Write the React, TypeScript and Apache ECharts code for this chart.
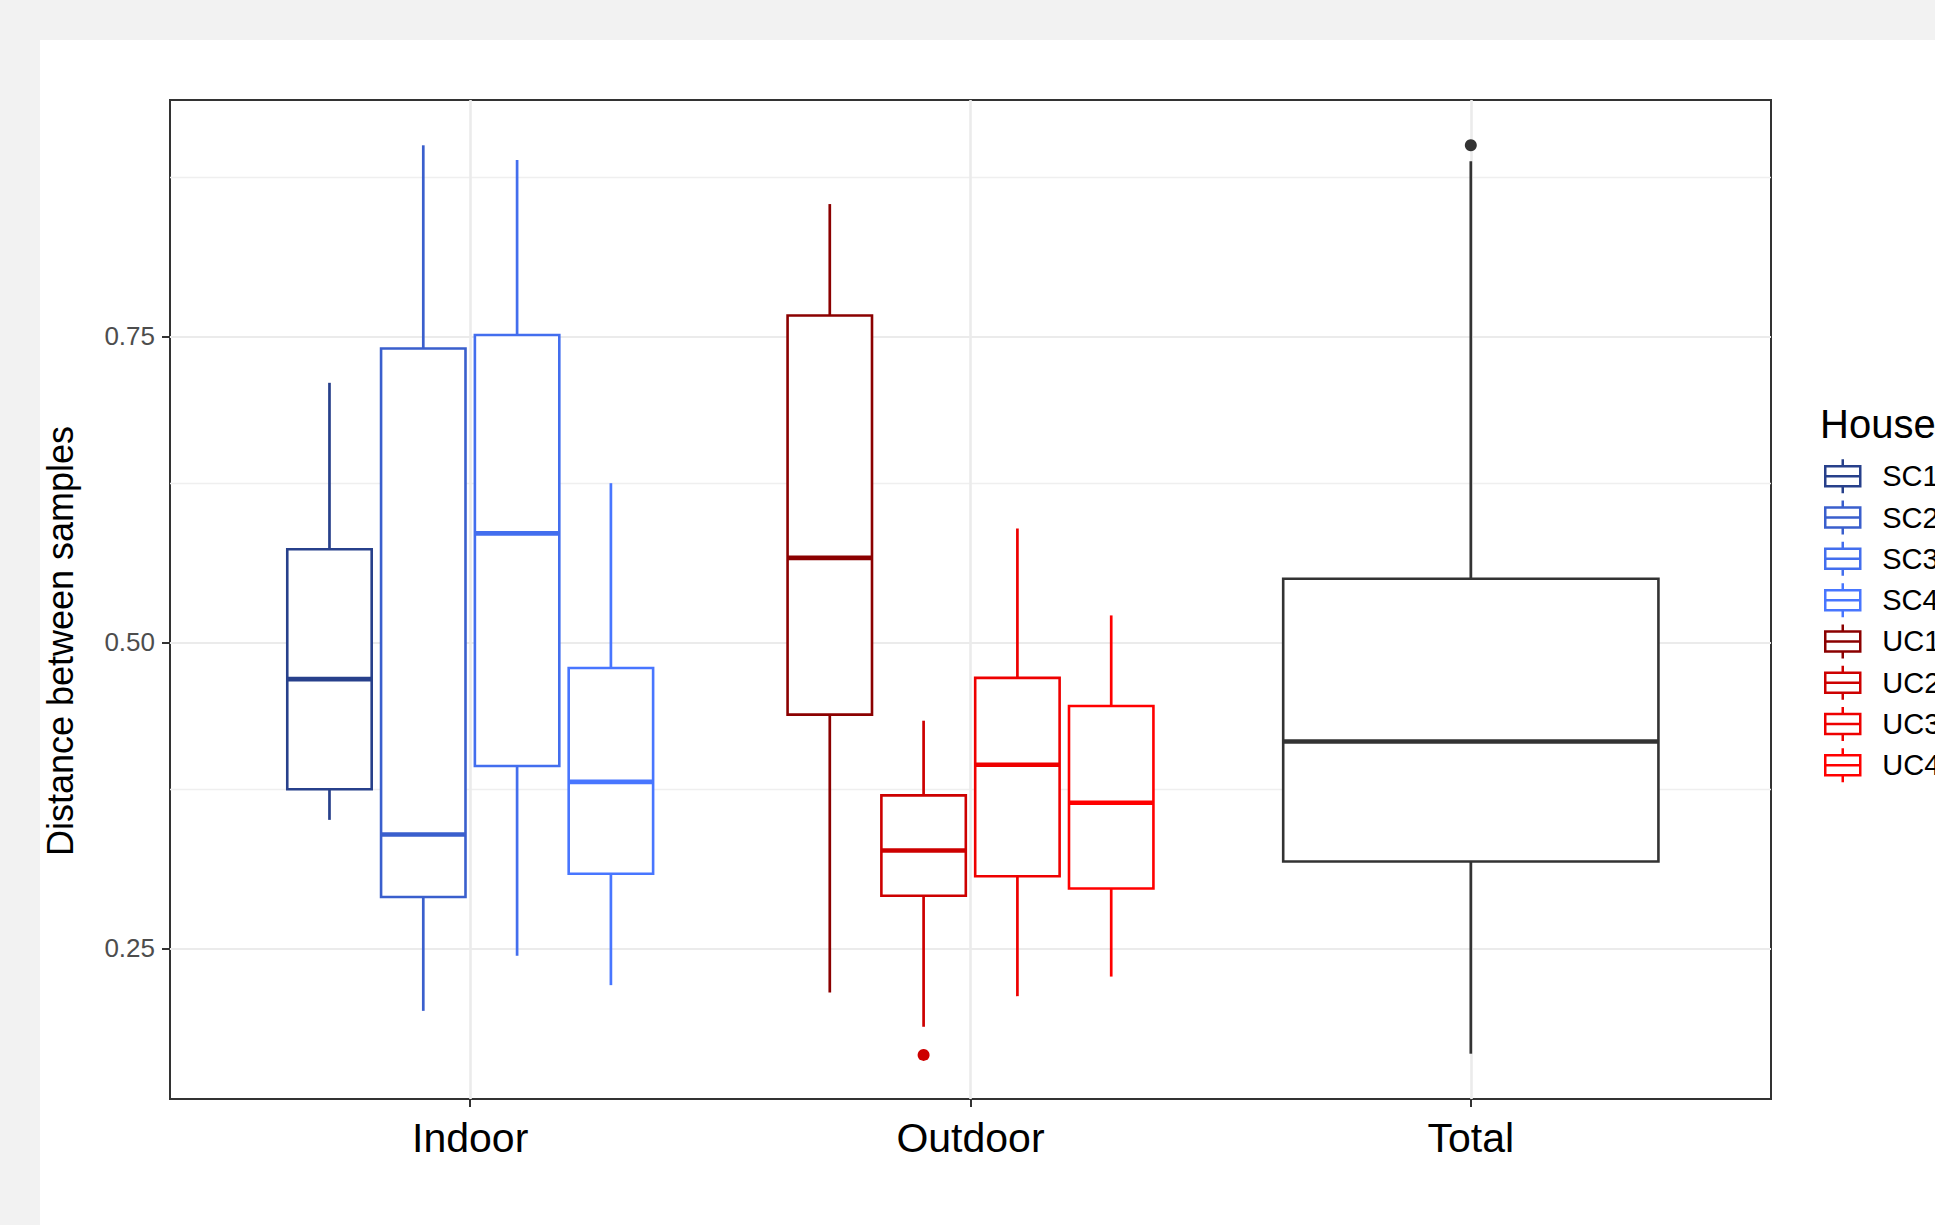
import React, { useEffect, useRef } from 'react';
import * as echarts from 'echarts';

const categories = ['Indoor', 'Outdoor', 'Total'];
const houses = ['SC1', 'SC2', 'SC3', 'SC4', 'UC1', 'UC2', 'UC3', 'UC4'];
const houseGroup = ['Indoor', 'Indoor', 'Indoor', 'Indoor', 'Outdoor', 'Outdoor', 'Outdoor', 'Outdoor'];
const houseColors = ['#27408B', '#3A5FCD', '#436EEE', '#4876FF', '#8B0000', '#CD0000', '#EE0000', '#FF0000'];
const whiskerLow = [0.355, 0.199, 0.244, 0.220, 0.214, 0.186, 0.211, 0.227];
const q1 = [0.380, 0.292, 0.399, 0.311, 0.441, 0.293, 0.309, 0.299];
const median = [0.470, 0.343, 0.589, 0.386, 0.569, 0.330, 0.400, 0.369];
const q3 = [0.576, 0.740, 0.751, 0.479, 0.767, 0.375, 0.471, 0.448];
const whiskerHigh = [0.712, 0.906, 0.894, 0.630, 0.858, 0.436, 0.593, 0.522];
const outlierHouse = ['UC2'];
const outlierValue = [0.163];
const totalStats = [0.164, 0.321, 0.419, 0.552, 0.893];
const totalOutliers = [0.906];
const totalColor = '#333333';
const yTicks = [0.25, 0.5, 0.75];
const yMinorGrid = [0.375, 0.625, 0.875];

const FONT = '"Liberation Sans", Arial, Helvetica, sans-serif';
const DODGE = 0.75;
const BOX_FRAC = 0.9;

function slotX(center: number, slot: number, n: number) {
  const slotW = DODGE / n;
  return center - DODGE / 2 + slotW * (slot + 0.5);
}

function makeRender(color: string) {
  return (params: any, api: any) => {
    const center = api.value(0);
    const slot = api.value(1);
    const n = api.value(2);
    const xc = slotX(center, slot, n);
    const halfW = n === 1 ? DODGE / 2 : ((DODGE / n) * BOX_FRAC) / 2;
    const pLow = api.coord([xc, api.value(3)]);
    const pQ1 = api.coord([xc, api.value(4)]);
    const pMed = api.coord([xc, api.value(5)]);
    const pQ3 = api.coord([xc, api.value(6)]);
    const pHigh = api.coord([xc, api.value(7)]);
    const xl = api.coord([xc - halfW, api.value(4)])[0];
    const xr = api.coord([xc + halfW, api.value(4)])[0];
    return {
      type: 'group',
      children: [
        { type: 'line', shape: { x1: pQ3[0], y1: pQ3[1], x2: pHigh[0], y2: pHigh[1] }, style: { stroke: color, lineWidth: 2.7 } },
        { type: 'line', shape: { x1: pQ1[0], y1: pQ1[1], x2: pLow[0], y2: pLow[1] }, style: { stroke: color, lineWidth: 2.7 } },
        { type: 'rect', shape: { x: xl, y: pQ3[1], width: xr - xl, height: pQ1[1] - pQ3[1] }, style: { fill: '#ffffff', stroke: color, lineWidth: 2.6 } },
        { type: 'line', shape: { x1: xl, y1: pMed[1], x2: xr, y2: pMed[1] }, style: { stroke: color, lineWidth: 4.6 } },
      ],
    };
  };
}

const legendIcon = 'path://M17.5,0 L17.5,7 M0,7 L35,7 L35,27 L0,27 Z M0,17 L35,17 M17.5,27 L17.5,34';

export default function App() {
  const ref = useRef<HTMLDivElement>(null);
  useEffect(() => {
    if (!ref.current) return;
    const chart = echarts.init(ref.current, null, { renderer: 'svg' });

    const series: any[] = [];
    series.push({
      type: 'line',
      name: '__grid',
      data: [],
      z: 1,
      silent: true,
      markLine: {
        silent: true,
        z: 1,
        symbol: ['none', 'none'],
        label: { show: false },
        lineStyle: { color: '#ebebeb', type: 'solid' },
        emphasis: { disabled: true },
        data: [
          ...yMinorGrid.map((v) => ({ yAxis: v, lineStyle: { width: 1.3, color: '#efefef', type: 'solid' } })),
          ...yTicks.map((v) => ({ yAxis: v, lineStyle: { width: 2.2, color: '#ebebeb', type: 'solid' } })),
          ...categories.map((c, i) => ({ xAxis: i + 1, lineStyle: { width: 2.6, color: '#ebebeb', type: 'solid' } })),
        ],
      },
    });

    houses.forEach((h, i) => {
      const catPos = categories.indexOf(houseGroup[i]) + 1;
      const groupMembers = houses.filter((_, j) => houseGroup[j] === houseGroup[i]);
      const slot = groupMembers.indexOf(h);
      series.push({
        type: 'custom',
        name: h,
        z: 3,
        itemStyle: { color: houseColors[i] },
        renderItem: makeRender(houseColors[i]),
        dimensions: ['pos', 'slot', 'n', 'low', 'q1', 'med', 'q3', 'high'],
        encode: { x: 0, y: [3, 4, 5, 6, 7] },
        data: [[catPos, slot, groupMembers.length, whiskerLow[i], q1[i], median[i], q3[i], whiskerHigh[i]]],
      });
    });

    series.push({
      type: 'custom',
      name: 'Total',
      z: 3,
      itemStyle: { color: totalColor },
      renderItem: makeRender(totalColor),
      dimensions: ['pos', 'slot', 'n', 'low', 'q1', 'med', 'q3', 'high'],
      encode: { x: 0, y: [3, 4, 5, 6, 7] },
      data: [[categories.indexOf('Total') + 1, 0, 1, ...totalStats]],
    });

    outlierHouse.forEach((h, k) => {
      const i = houses.indexOf(h);
      const catPos = categories.indexOf(houseGroup[i]) + 1;
      const groupMembers = houses.filter((_, j) => houseGroup[j] === houseGroup[i]);
      const slot = groupMembers.indexOf(h);
      series.push({
        type: 'scatter',
        name: h,
        z: 4,
        symbol: 'circle',
        symbolSize: 12,
        itemStyle: { color: houseColors[i], opacity: 1 },
        data: [[slotX(catPos, slot, groupMembers.length), outlierValue[k]]],
      });
    });

    series.push({
      type: 'scatter',
      name: 'Total outliers',
      z: 4,
      symbol: 'circle',
      symbolSize: 12,
      itemStyle: { color: totalColor, opacity: 1 },
      data: totalOutliers.map((v) => [slotX(categories.indexOf('Total') + 1, 0, 1), v]),
    });

    chart.setOption({
      animation: false,
      backgroundColor: '#ffffff',
      textStyle: { fontFamily: FONT },
      grid: {
        left: 130, top: 60, width: 1601, height: 999,
        show: true, borderColor: '#333333', borderWidth: 2, backgroundColor: 'transparent',
      },
      xAxis: {
        type: 'value',
        min: 0.4,
        max: 3.6,
        axisLine: { show: true, lineStyle: { color: '#333333', width: 2 } },
        splitLine: { show: false },
        axisTick: { show: true, customValues: [1, 2, 3], length: 8, lineStyle: { color: '#333333', width: 2 } },
        axisLabel: {
          customValues: [1, 2, 3],
          formatter: (v: number) => categories[Math.round(v) - 1] ?? '',
          fontSize: 41,
          color: '#000000',
          margin: 18,
          fontFamily: FONT,
        },
      },
      yAxis: {
        type: 'value',
        min: 0.127,
        max: 0.943,
        axisLine: { show: true, lineStyle: { color: '#333333', width: 2 } },
        splitLine: { show: false },
        axisTick: { show: true, customValues: yTicks, length: 8, lineStyle: { color: '#333333', width: 2 } },
        axisLabel: {
          customValues: yTicks,
          formatter: (v: number) => v.toFixed(2),
          fontSize: 26,
          color: '#4d4d4d',
          margin: 15,
          fontFamily: FONT,
        },
      },
      legend: {
        orient: 'vertical',
        left: 1784,
        top: 418,
        padding: 0,
        itemWidth: 35,
        itemHeight: 34,
        itemGap: 4.8,
        selectedMode: false,
        icon: legendIcon,
        textStyle: { fontSize: 29, color: '#000000', fontFamily: FONT, padding: [0, 0, 0, 17] },
        data: houses.map((h, i) => ({
          name: h,
          icon: legendIcon,
          itemStyle: { color: 'rgba(0,0,0,0)', borderColor: houseColors[i], borderWidth: 2.5 },
        })),
      },
      graphic: [
        {
          type: 'text',
          x: 20,
          y: 601,
          rotation: Math.PI / 2,
          style: {
            text: 'Distance between samples',
            fontSize: 36,
            fontFamily: FONT,
            fill: '#000000',
            align: 'center',
            verticalAlign: 'middle',
          },
        },
        {
          type: 'text',
          left: 1780,
          top: 364,
          style: { text: 'House', fontSize: 40, fontFamily: FONT, fill: '#000000' },
        },
      ],
      series,
    });
    return () => chart.dispose();
  }, []);

  return (
    <div style={{ position: 'fixed', left: 0, top: 0, width: 1935, height: 1225, background: '#f2f2f2', overflow: 'hidden' }}>
      <div
        ref={ref}
        style={{ position: 'absolute', left: 40, top: 40, width: 1895, height: 1185, background: '#ffffff', overflow: 'hidden' }}
      />
    </div>
  );
}
